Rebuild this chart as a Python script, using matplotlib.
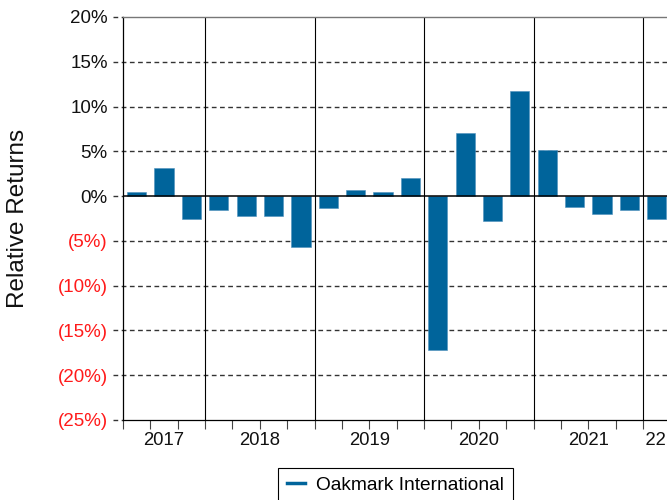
import matplotlib
matplotlib.use("Agg")
import matplotlib.pyplot as plt
from matplotlib.lines import Line2D
from matplotlib.transforms import blended_transform_factory, Bbox, TransformedBbox

plt.rcParams['font.family'] = ['Liberation Sans', 'DejaVu Sans']

# Quarterly relative returns (%), 2017 Q2 through 2022 Q1
quarters = ["2017Q2", "2017Q3", "2017Q4",
            "2018Q1", "2018Q2", "2018Q3", "2018Q4",
            "2019Q1", "2019Q2", "2019Q3", "2019Q4",
            "2020Q1", "2020Q2", "2020Q3", "2020Q4",
            "2021Q1", "2021Q2", "2021Q3", "2021Q4",
            "2022Q1"]
returns = [0.5, 3.1, -2.6,
           -1.6, -2.2, -2.2, -5.7,
           -1.3, 0.65, 0.5, 2.0,
           -17.2, 7.1, -2.75, 11.7,
           5.1, -1.2, -2.0, -1.6,
           -2.55]
years = ["2017", "2018", "2019", "2020", "2021", "2022"]
y_ticks = [20, 15, 10, 5, 0, -5, -10, -15, -20, -25]
series_name = "Oakmark International"

bar_color = "#00649B"
x_max = 20.75

fig = plt.figure(figsize=(6.67, 5.0), dpi=100)
ax = fig.add_axes([123 / 667, 80 / 500, 568 / 667, 403 / 500])

xs = list(range(len(quarters)))
ax.bar([x + 0.5 for x in xs], returns, width=0.7, color=bar_color,
       edgecolor="#4d8fbd", linewidth=0.4, zorder=3)

ax.set_xlim(0, x_max)
ax.set_ylim(-25, 20)

# dashed horizontal grid with short dashed stubs left of the axis
trans = blended_transform_factory(ax.transAxes, ax.transData)
for y in y_ticks:
    if y == 0:
        ax.axhline(0, color="black", lw=1.1, zorder=4)
        ax.plot([-0.0176, 0], [0, 0], transform=trans, color="#333333",
                lw=1.0, dashes=(3.4, 2.5), clip_on=False)
    elif y in (20, -25):
        ax.plot([-0.0176, 0], [y, y], transform=trans, color="#333333",
                lw=1.0, dashes=(3.4, 2.5), clip_on=False)
    else:
        ax.plot([-0.0176, 1], [y, y], transform=trans, color="#333333",
                lw=1.0, dashes=(3.4, 2.5), clip_on=False, zorder=1)

# year separators
year_starts = [0, 3, 7, 11, 15, 19]
for b in year_starts[1:]:
    ax.axvline(b, color="black", lw=0.8, zorder=2)

# year labels centred in each year's span; the last one is clipped to its own span
bounds = year_starts + [x_max]
label_trans = blended_transform_factory(ax.transData, ax.transAxes)
for i, yr in enumerate(years):
    if i == len(years) - 1:
        c = bounds[i] + 0.1
    else:
        c = (bounds[i] + bounds[i + 1]) / 2
    t = ax.text(c, -0.052, yr, transform=label_trans,
                ha="center", va="center", fontsize=13.3, color="#111111")
    if i == len(years) - 1:
        clip = TransformedBbox(Bbox.from_extents(bounds[i] + 0.06, -0.2, x_max + 2, 0),
                               label_trans)
        t.set_clip_box(clip)
        t.set_clip_on(True)
    else:
        t.set_clip_on(False)

ax.set_xticks(range(0, 21))
ax.set_xticklabels([])
ax.tick_params(axis="x", direction="out", length=6.5, width=0.8, color="#444444")

ax.set_yticks(y_ticks)
labels = [f"{v}%" if v >= 0 else f"({-v}%)" for v in y_ticks]
ax.set_yticklabels(labels, fontsize=13.5)
for lab, v in zip(ax.get_yticklabels(), y_ticks):
    lab.set_color("#ff1a1a" if v < 0 else "#111111")
ax.tick_params(axis="y", length=0, pad=11)

ax.spines["right"].set_visible(False)
ax.spines["top"].set_color("#777777")
ax.spines["top"].set_linewidth(1.0)
ax.spines["left"].set_color("black")
ax.spines["left"].set_linewidth(0.9)
ax.spines["bottom"].set_color("black")
ax.spines["bottom"].set_linewidth(0.9)

fig.text(18 / 667, 1 - 218 / 500, "Relative Returns", rotation=90,
         ha="center", va="center", fontsize=17.5, color="#111111")

handle = Line2D([0], [0], color=bar_color, lw=2.5)
leg = fig.legend([handle], [series_name], loc="upper left",
                 bbox_to_anchor=(278 / 667, 1 - 468 / 500), borderaxespad=0,
                 fancybox=False, edgecolor="black", framealpha=1,
                 fontsize=13.8, handlelength=0.95, handletextpad=0.6,
                 borderpad=0.45)
leg.get_frame().set_linewidth(0.8)

fig.savefig("out.png", dpi=100)
